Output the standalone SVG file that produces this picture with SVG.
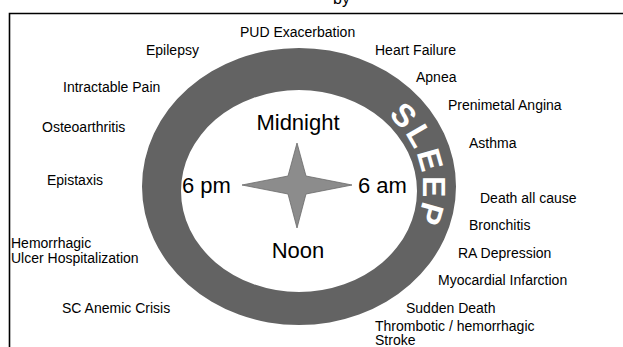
<svg xmlns="http://www.w3.org/2000/svg" width="623" height="347" viewBox="0 0 623 347">
<style>
.lbl{font-family:"Liberation Sans",Arial,sans-serif;font-size:14px;fill:#000}
.big{font-family:"Liberation Sans",Arial,sans-serif;font-size:22px;fill:#000}
.sleep{font-family:"Liberation Sans",Arial,sans-serif;font-size:32px;font-weight:bold;fill:#fff;letter-spacing:3px}
</style>
<defs>
<path id="arc" d="M299 84 A124 104 0 0 1 423 188 A124 104 0 0 1 299 292"/>
</defs>
<rect width="623" height="347" fill="#fff"/>
<text class="lbl" x="333" y="4" style="font-size:16px">by</text>
<g id="frame" fill="none" stroke="#000" stroke-width="1.6">
<path d="M9.5 347 V13.5 H623"/>
</g>
<g id="ring">
<path fill="#636363" fill-rule="evenodd" d="M142 186.5 A157 138.5 0 1 0 456 186.5 A157 138.5 0 1 0 142 186.5 Z M181 191 A118 101 0 1 0 417 191 A118 101 0 1 0 181 191 Z"/>
<text class="sleep" text-anchor="middle"><textPath href="#arc" startOffset="156">SLEEP</textPath></text>
</g>
<g id="star">
<polygon points="297,143 306,176 352,185 306,194 297,228 288,194 242,185 288,176" fill="#8c8c8c" stroke="#6a6a6a" stroke-width="0.8"/>
</g>
<g id="clock">
<text class="big" x="298" y="130" text-anchor="middle">Midnight</text>
<text class="big" x="182" y="193">6 pm</text>
<text class="big" x="358" y="193">6 am</text>
<text class="big" x="298" y="258" text-anchor="middle">Noon</text>
</g>
<g id="labels">
<text class="lbl" x="240" y="37">PUD Exacerbation</text>
<text class="lbl" x="146" y="55">Epilepsy</text>
<text class="lbl" x="375" y="55">Heart Failure</text>
<text class="lbl" x="416" y="82">Apnea</text>
<text class="lbl" x="63" y="92">Intractable Pain</text>
<text class="lbl" x="448" y="110">Prenimetal Angina</text>
<text class="lbl" x="42" y="132">Osteoarthritis</text>
<text class="lbl" x="469" y="148">Asthma</text>
<text class="lbl" x="47" y="185">Epistaxis</text>
<text class="lbl" x="480" y="203">Death all cause</text>
<text class="lbl" x="469" y="230">Bronchitis</text>
<text class="lbl" x="11" y="248">Hemorrhagic</text>
<text class="lbl" x="11" y="263">Ulcer Hospitalization</text>
<text class="lbl" x="458" y="258">RA Depression</text>
<text class="lbl" x="438" y="285">Myocardial Infarction</text>
<text class="lbl" x="62" y="313">SC Anemic Crisis</text>
<text class="lbl" x="406" y="313">Sudden Death</text>
<text class="lbl" x="375" y="331">Thrombotic / hemorrhagic</text>
<text class="lbl" x="375" y="345">Stroke</text>
</g>
</svg>
